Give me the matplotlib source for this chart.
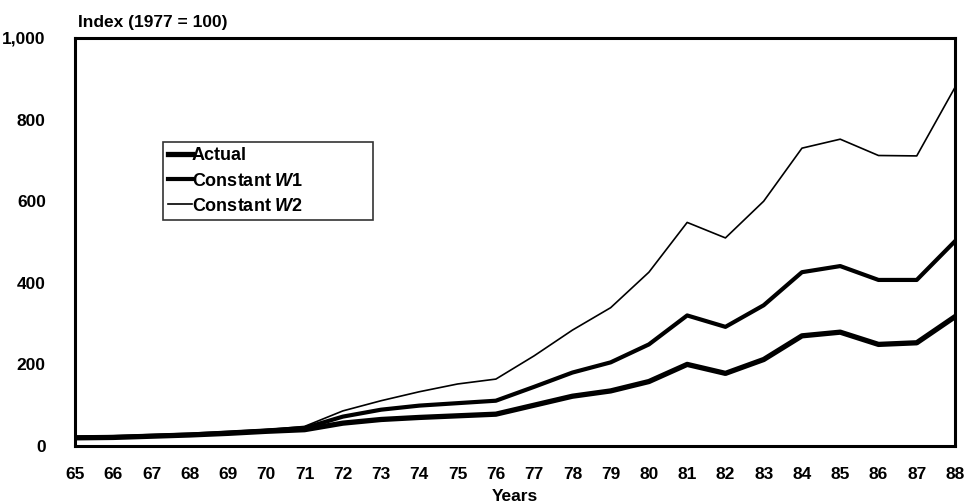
import matplotlib
matplotlib.use("Agg")
import matplotlib.pyplot as plt

plt.rcParams['font.family'] = ['Liberation Sans', 'DejaVu Sans']
plt.rcParams['font.weight'] = 'bold'
plt.rcParams['axes.labelweight'] = 'bold'
plt.rcParams['mathtext.fontset'] = 'custom'
plt.rcParams['mathtext.it'] = 'Liberation Sans:italic:bold'
plt.rcParams['mathtext.rm'] = 'Liberation Sans:bold'

years = list(range(65, 89))
year_labels = [str(y) for y in years]
actual = [20, 21, 24, 27, 31, 36, 40, 56, 65, 70, 74, 78, 100, 122, 135, 158, 200, 178, 212, 270, 279, 249, 253, 317]
const_w1 = [21, 22, 25, 28, 33, 38, 44, 72, 89, 99, 105, 111, 145, 180, 205, 249, 320, 292, 345, 426, 441, 407, 407, 502]
const_w2 = [22, 23, 26, 29, 34, 40, 48, 86, 111, 133, 152, 164, 221, 284, 339, 426, 548, 510, 600, 730, 752, 712, 711, 879]
y_ticks = [0, 200, 400, 600, 800, 1000]
y_tick_labels = ['0', '200', '400', '600', '800', '1,000']

fig = plt.figure(figsize=(9.67, 5.04), dpi=100)
ax = fig.add_axes([75/967, 1-446/504, (955-75)/967, (446-38)/504])

ax.plot(years, actual, color='black', lw=3.8, solid_joinstyle='round', label='Actual')
ax.plot(years, const_w1, color='black', lw=3.0, solid_joinstyle='round', label='Constant $\\mathit{W1}$')
ax.plot(years, const_w2, color='black', lw=1.2, label='Constant $\\mathit{W2}$')

ax.set_xlim(65, 88)
ax.set_ylim(0, 1000)
ax.set_xticks(years)
ax.set_xticklabels(year_labels)
ax.set_yticks(y_ticks)
ax.set_yticklabels(y_tick_labels)
ax.tick_params(length=0, labelsize=12.5)
ax.tick_params(axis='y', pad=21)
ax.tick_params(axis='x', pad=15)
for s in ax.spines.values():
    s.set_linewidth(2.2)

ax.set_xlabel('Years', fontsize=12.5, labelpad=5, fontweight='bold')
fig.text(78/967, 1-22/504, 'Index (1977 = 100)', fontsize=12.5, ha='left', va='center')

x0 = (163-75)/880
w = (373-163)/880
ytop = (446-142)/408
h = (221-142)/408
leg = ax.legend(loc='upper left', bbox_to_anchor=(x0, ytop-h, w, h), mode='expand',
                fontsize=13, handlelength=1.3, handletextpad=0.0, borderpad=0.3,
                labelspacing=0.45, borderaxespad=0, fancybox=False, frameon=True,
                edgecolor='black')
leg.get_frame().set_linewidth(1.2)
leg.get_frame().set_boxstyle('square', pad=0)
for t in leg.get_texts():
    t.set_fontweight('bold')

fig.savefig('out.png', dpi=100)
